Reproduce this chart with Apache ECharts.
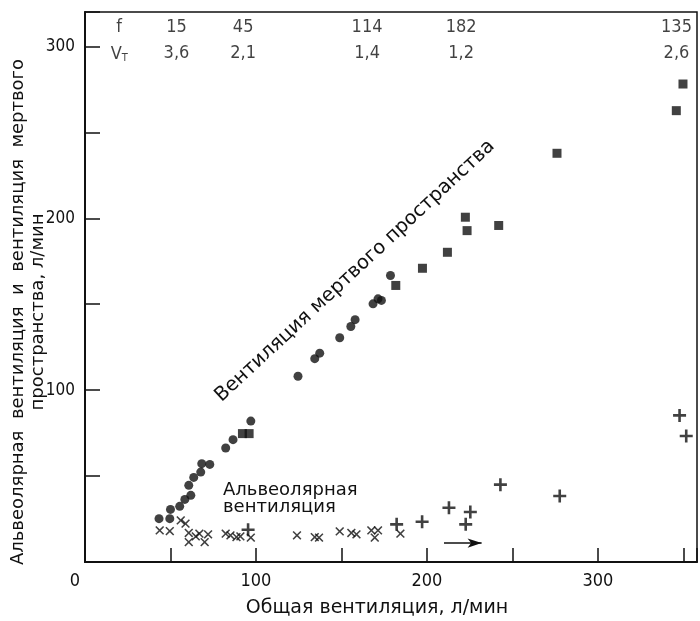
<!DOCTYPE html>
<html>
<head>
<meta charset="utf-8">
<script src="https://cdn.jsdelivr.net/npm/echarts@6/dist/echarts.min.js"></script>
<style>
  html, body { margin: 0; padding: 0; background: #fff; }
  #chart { width: 700px; height: 621px; }
</style>
</head>
<body>
<div id="chart"></div>
<script>
// вентиляция мертвого пространства, кружки
const deadCircles = [
  [43.3, 25.2], [50, 30.6], [49.6, 25.2], [55.4, 32.4], [58.4, 36.4], [61.9, 38.8],
  [60.7, 44.6], [63.6, 49.2], [67.7, 52.3], [68.3, 57.2], [73, 56.8], [82.3, 66.3],
  [86.6, 71.2], [97, 82], [124.6, 108.1], [134.4, 118.3], [137.3, 121.5], [149, 130.5],
  [155.5, 137], [158, 141], [168.5, 150.2], [171.4, 153.1], [173.4, 152.2], [178.7, 166.7]
]
// вентиляция мертвого пространства, квадраты
const deadSquares = [
  [92.1, 74.7], [96, 74.7], [181.8, 160.9], [197.4, 170.9], [212, 180.2], [222.5, 200.6],
  [223.5, 192.8], [242, 195.8], [276.1, 237.8], [345.9, 262.6], [349.8, 278.1]
]
// альвеолярная вентиляция, крестики x
const alvCross = [
  [43.7, 18.4], [49.6, 18], [56, 24.2], [58.8, 22.3], [60.7, 16.9], [60.7, 11.6],
  [64.8, 14.9], [66.9, 16.5], [70, 11.6], [72, 16.1], [82.3, 16.5], [85.1, 15.5],
  [88.6, 14.5], [90.9, 14.9], [97, 14.2], [124, 15.5], [134.4, 14.5], [136.9, 14.2],
  [149, 17.8], [155.8, 16.9], [158.8, 16.1], [167.5, 18.4], [171.4, 18.4], [169.5, 14.2],
  [184.5, 16.5]
]
// альвеолярная вентиляция, плюсы
const alvPlus = [
  [95.4, 18.8], [182.3, 21.9], [197.2, 23.4], [212.9, 31.6], [225.4, 29.1], [222.7, 21.9],
  [243, 45], [277.7, 38.4], [347.8, 85.3], [351.7, 73.3]
]
// таблица сверху: f и V_T
const topX = [53.5, 92.5, 165, 220, 346]
const fRow = ['15', '45', '114', '182', '135']
const vtRow = ['3,6', '2,1', '1,4', '1,2', '2,6']
const headerX = 20
const fRowY = 311
const vtRowY = 296

const numFont = "'Liberation Sans Narrow', 'DejaVu Sans Condensed', sans-serif"
const textFont = "'DejaVu Sans', sans-serif"
const ink = '#111'

const plusPath = 'path://M4,0H6V4H10V6H6V10H4V6H0V4H4Z'
const crossPath = 'path://M4.3,0H5.7V4.3H10V5.7H5.7V10H4.3V5.7H0V4.3H4.3Z'

const topData = [{value: [headerX, fRowY], name: 'f'}]
  .concat(fRow.map((t, i) => ({value: [topX[i], fRowY], name: t})))
  .concat([{value: [headerX, vtRowY], name: '{v|V}{t|T}'}])
  .concat(vtRow.map((t, i) => ({value: [topX[i], vtRowY], name: t})))

let chart = echarts.init(document.getElementById('chart'))

const option = {
  backgroundColor: '#fff',
  animation: false,
  grid: {
    left: 85, right: 3, top: 12, bottom: 59,
    outerBoundsMode: 'none',
    containLabel: false,
    show: true, borderColor: ink, borderWidth: 1.5
  },
  xAxis: {
    type: 'value',
    min: 0, max: 358, interval: 50,
    name: 'Общая вентиляция, л/мин',
    nameLocation: 'middle',
    nameGap: 37,
    nameMoveOverlap: false,
    nameTextStyle: {fontFamily: textFont, fontSize: 19, color: ink, padding: [0, 28, 0, 0]},
    axisLine: {lineStyle: {color: ink, width: 2}},
    axisTick: {inside: true, length: 14, lineStyle: {color: ink, width: 1.5}},
    splitLine: {show: false},
    axisLabel: {
      margin: 10,
      fontFamily: numFont, fontSize: 18, color: ink,
      formatter: v => v === 0 ? '{z|0}' : (v % 100 === 0 ? String(v) : ''),
      rich: {z: {fontFamily: numFont, fontSize: 18, color: ink, padding: [0, 20, 0, 0]}}
    }
  },
  yAxis: {
    type: 'value',
    min: 0, max: 320, interval: 50,
    name: 'Альвеолярная  вентиляция  и  вентиляция  мертвого\nпространства, л/мин',
    nameLocation: 'middle',
    nameRotate: 90,
    nameGap: 37,
    nameMoveOverlap: false,
    nameTextStyle: {fontFamily: textFont, fontSize: 18, color: ink, lineHeight: 20, padding: [0, 50, 0, 0]},
    axisLine: {lineStyle: {color: ink, width: 2}},
    axisTick: {inside: true, length: 15, lineStyle: {color: ink, width: 1.5}},
    splitLine: {show: false},
    axisLabel: {
      margin: 10,
      fontFamily: numFont, fontSize: 17, color: ink,
      formatter: v => (v > 0 && v % 100 === 0) ? String(v) : ''
    }
  },
  series: [
    {
      type: 'scatter', data: deadCircles,
      symbol: 'circle', symbolSize: 9,
      itemStyle: {color: ink}
    },
    {
      type: 'scatter', data: deadSquares,
      symbol: 'rect', symbolSize: 9,
      itemStyle: {color: ink}
    },
    {
      type: 'scatter', data: alvCross,
      symbol: crossPath, symbolSize: 11, symbolRotate: 45,
      itemStyle: {color: ink}
    },
    {
      type: 'scatter', data: alvPlus,
      symbol: plusPath, symbolSize: 13,
      itemStyle: {color: ink},
      markLine: {
        silent: true,
        symbol: ['none', 'arrow'],
        symbolSize: [7, 14],
        label: {show: false},
        lineStyle: {color: ink, width: 1.5, type: 'solid'},
        data: [[{coord: [210, 11]}, {coord: [232, 11]}]]
      }
    },
    {
      type: 'scatter', data: topData,
      symbol: 'circle', symbolSize: 1,
      itemStyle: {color: 'rgba(0,0,0,0)'},
      label: {
        show: true, position: 'inside',
        formatter: p => p.name,
        fontFamily: numFont, fontSize: 18, color: ink,
        rich: {
          v: {fontFamily: numFont, fontSize: 18, color: ink, verticalAlign: 'bottom', lineHeight: 20},
          t: {fontFamily: numFont, fontSize: 11, color: ink, verticalAlign: 'bottom', lineHeight: 10}
        }
      }
    }
  ],
  graphic: [
    {
      type: 'text', x: 355, y: 271, rotation: 0.75,
      style: {
        text: 'Вентиляция мертвого пространства',
        font: '19.5px ' + textFont, fill: ink,
        align: 'center', verticalAlign: 'middle',
        textAlign: 'center', textVerticalAlign: 'middle'
      }
    },
    {
      type: 'text', x: 223, y: 499,
      style: {
        text: 'Альвеолярная\nвентиляция',
        font: '18px ' + textFont, fill: ink, lineHeight: 17,
        align: 'left', verticalAlign: 'middle',
        textAlign: 'left', textVerticalAlign: 'middle'
      }
    }
  ]
}

chart.setOption(option)
</script>
</body>
</html>
